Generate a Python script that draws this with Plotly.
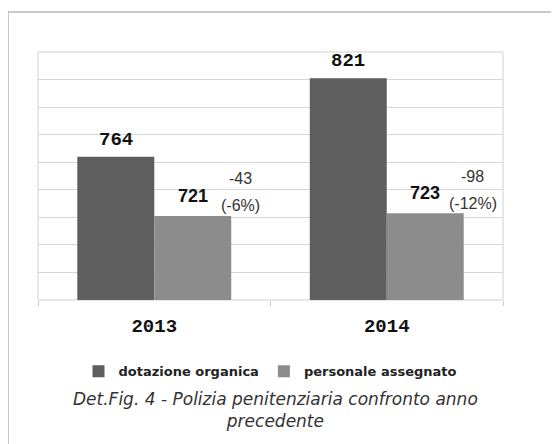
import plotly.graph_objects as go

years = ['2013', '2014']
dotazione = [764, 821]
assegnato = [721, 723]
series_names = ['dotazione organica', 'personale assegnato']
caption = 'Det.Fig. 4 - Polizia penitenziaria confronto anno<br>precedente'

DARK = '#5e5e5e'
LIGHT = '#8c8c8c'
MONO = 'Liberation Mono, Courier New, monospace'
SANS = 'Liberation Sans, Arial, sans-serif'
GOTHIC = 'DejaVu Sans, Noto Sans, sans-serif'

fig = go.Figure()
fig.add_trace(go.Bar(x=years, y=dotazione, name=series_names[0],
                     marker=dict(color=DARK, line=dict(width=0))))
fig.add_trace(go.Bar(x=years, y=assegnato, name=series_names[1],
                     marker=dict(color=LIGHT, line=dict(width=0))))

annotations = []
for i, (d, a) in enumerate(zip(dotazione, assegnato)):
    diff = a - d
    pct = round(diff / d * 100)
    # value over the dark bar
    annotations.append(dict(x=i, y=d, text=f'<b>{d}</b>', showarrow=False,
                            xshift=-38.5, yshift=17,
                            font=dict(family=MONO, size=19, color='#111')))
    # value over the light bar
    annotations.append(dict(x=i, y=a, text=f'<b>{a}</b>', showarrow=False,
                            xshift=38.5, yshift=20,
                            font=dict(family=SANS, size=18, color='#111')))
    # difference and percentage
    annotations.append(dict(x=i, y=a, text=f'{diff}', showarrow=False,
                            xshift=86, yshift=37,
                            font=dict(family=SANS, size=16, color='#333')))
    annotations.append(dict(x=i, y=a, text=f'({pct}%)', showarrow=False,
                            xshift=86, yshift=10,
                            font=dict(family=SANS, size=16, color='#333')))

annotations.append(dict(xref='paper', yref='paper', x=0.51, y=-0.4416,
                        xanchor='center', yanchor='middle', showarrow=False,
                        text=f'<i>{caption}</i>', align='center',
                        font=dict(family=GOTHIC, size=17, color='#333')))

# the page adds an 8px body margin, so the figure is 8px smaller than the window
fig.update_layout(
    width=551, height=436,
    margin=dict(l=30, r=56, t=44, b=144),
    paper_bgcolor='#ffffff', plot_bgcolor='#ffffff',
    barmode='group', bargap=0.338, bargroupgap=0,
    showlegend=True,
    legend=dict(orientation='h', x=0.5, xanchor='center', y=-0.287,
                yanchor='middle',
                font=dict(family=GOTHIC, size=13, color='#222', weight='bold'),
                itemwidth=30, traceorder='normal'),
    annotations=annotations,
    xaxis=dict(type='category', range=[-0.5, 1.5], showgrid=False,
               showline=False, ticks='outside',
               tickson='boundaries', ticklen=5, tickcolor='#cccccc',
               ticklabelstandoff=12,
               tickfont=dict(family=MONO, size=19, color='#111', weight='bold')),
    yaxis=dict(range=[660, 840], dtick=20, tick0=660, showticklabels=False,
               showgrid=True, gridcolor='#d6d6d6', gridwidth=1,
               zeroline=False, showline=False),
    shapes=[
        dict(type='rect', xref='paper', yref='paper', x0=0, x1=1, y0=0, y1=1,
             line=dict(color='#d0d0d0', width=1), layer='below'),
        dict(type='rect', xref='paper', yref='paper', x0=-0.0645, x1=1.2,
             y0=-0.7, y1=1.161, line=dict(color='#b8b8b8', width=1.5),
             layer='below'),
    ],
)

fig.write_html('out.html')
